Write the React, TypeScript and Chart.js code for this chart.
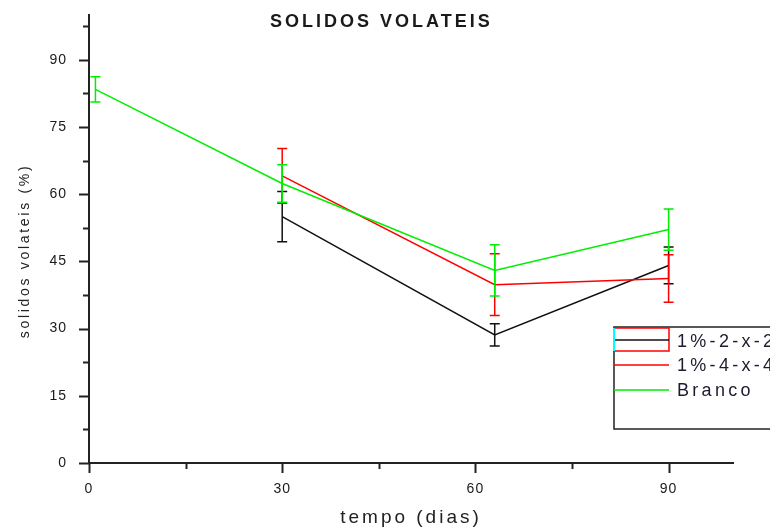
import React, { useEffect, useRef } from 'react';
import { Chart, registerables } from 'chart.js';

Chart.register(...registerables);

const chartTitle = 'SOLIDOS VOLATEIS';
const xTitle = 'tempo (dias)';
const yTitle = 'solidos volateis (%)';
const seriesNames = ['1%-2-x-2', '1%-4-x-4', 'Branco'];

const xBlack = [30, 63, 90];
const yBlack = [55.0, 28.6, 44.1];
const eBlack = [5.6, 2.5, 4.1];

const xRed = [30, 63, 90];
const yRed = [64.1, 39.8, 41.2];
const eRed = [6.1, 6.9, 5.3];

const xGreen = [1, 30, 63, 90];
const yGreen = [83.4, 62.4, 43.0, 52.1];
const eGreen = [2.8, 4.2, 5.7, 4.6];

const FONT = "'Liberation Sans', Arial, sans-serif";
const TITLE_SPACING = '3px';
const TICK_SPACING = '1px';
const AXIS = '#222';

const toPoints = (xs: number[], ys: number[]) => xs.map((x, i) => ({ x, y: ys[i] }));

const errorsByDataset = [eBlack, eRed, eGreen];
const colors = ['#111111', '#ff0000', '#00ee00'];

const spacingPlugin = {
  id: 'spacing',
  beforeUpdate(chart: any) {
    chart.ctx.letterSpacing = TICK_SPACING;
  },
  beforeDraw(chart: any) {
    chart.ctx.letterSpacing = TITLE_SPACING;
  },
  afterDatasetsDraw(chart: any) {
    chart.ctx.letterSpacing = TICK_SPACING;
  },
};

const ticksPlugin = {
  id: 'tickMarks',
  afterDraw(chart: any) {
    const ctx = chart.ctx;
    const xs = chart.scales.x;
    const ys = chart.scales.y;
    const left = chart.chartArea.left;
    const bottom = chart.chartArea.bottom;
    ctx.save();
    ctx.strokeStyle = AXIS;
    ctx.lineWidth = 2;
    ys.ticks.forEach((t: any) => {
      const v = t.value;
      const py = Math.round(ys.getPixelForValue(v)) + 0.5;
      const len = Math.abs(v % 15) < 1e-6 ? 10 : 6;
      ctx.beginPath();
      ctx.moveTo(left - len, py);
      ctx.lineTo(left, py);
      ctx.stroke();
    });
    xs.ticks.forEach((t: any) => {
      const v = t.value;
      const px = Math.round(xs.getPixelForValue(v)) + 0.5;
      const len = Math.abs(v % 30) < 1e-6 ? 10 : 6;
      ctx.beginPath();
      ctx.moveTo(px, bottom);
      ctx.lineTo(px, bottom + len);
      ctx.stroke();
    });
    ctx.restore();
  },
};

const errorPlugin = {
  id: 'errorBars',
  afterDatasetDraw(chart: any, args: any) {
    const idx = args.index;
    const errs = errorsByDataset[idx];
    if (!errs) return;
    const ctx = chart.ctx;
    const ys = chart.scales.y;
    const meta = chart.getDatasetMeta(idx);
    const data = chart.data.datasets[idx].data as any[];
    ctx.save();
    ctx.strokeStyle = colors[idx];
    ctx.lineWidth = 1.5;
    meta.data.forEach((el: any, i: number) => {
      const v = data[i].y;
      const e = errs[i];
      const x = el.x;
      const yt = ys.getPixelForValue(v + e);
      const yb = ys.getPixelForValue(v - e);
      ctx.beginPath();
      ctx.moveTo(x, yt);
      ctx.lineTo(x, yb);
      ctx.moveTo(x - 5, yt);
      ctx.lineTo(x + 5, yt);
      ctx.moveTo(x - 5, yb);
      ctx.lineTo(x + 5, yb);
      ctx.stroke();
    });
    ctx.restore();
  },
};

const decorPlugin = {
  id: 'decor',
  afterDraw(chart: any) {
    const ctx = chart.ctx;
    ctx.save();
    ctx.letterSpacing = TITLE_SPACING;
    // title
    ctx.fillStyle = '#1a1a1a';
    ctx.font = `bold 18px ${FONT}`;
    ctx.textAlign = 'left';
    ctx.textBaseline = 'middle';
    ctx.fillText(chartTitle, 270, 22);

    // y axis title
    ctx.save();
    ctx.translate(25, 251);
    ctx.rotate(-Math.PI / 2);
    ctx.letterSpacing = '2.7px';
    ctx.font = `14px ${FONT}`;
    ctx.fillStyle = '#222';
    ctx.textAlign = 'center';
    ctx.textBaseline = 'middle';
    ctx.fillText(yTitle, 0, 0);
    ctx.restore();

    // legend box
    const bx = 614;
    const by = 327;
    const bw = 170;
    const bh = 102;
    ctx.strokeStyle = AXIS;
    ctx.lineWidth = 1.5;
    ctx.strokeRect(bx, by, bw, bh);

    // entry 1 (black series with red frame)
    ctx.strokeStyle = '#ff0000';
    ctx.lineWidth = 1.5;
    ctx.strokeRect(bx, 328, 55, 23);
    ctx.strokeStyle = colors[0];
    ctx.beginPath();
    ctx.moveTo(bx, 340);
    ctx.lineTo(bx + 55, 340);
    ctx.stroke();
    ctx.strokeStyle = '#00ffff';
    ctx.lineWidth = 2;
    ctx.beginPath();
    ctx.moveTo(bx, 328);
    ctx.lineTo(bx, 351);
    ctx.stroke();

    // entry 2
    ctx.strokeStyle = colors[1];
    ctx.lineWidth = 1.5;
    ctx.beginPath();
    ctx.moveTo(bx, 365);
    ctx.lineTo(bx + 55, 365);
    ctx.stroke();
    // entry 3
    ctx.strokeStyle = colors[2];
    ctx.beginPath();
    ctx.moveTo(bx, 390);
    ctx.lineTo(bx + 55, 390);
    ctx.stroke();

    ctx.fillStyle = '#1c1c30';
    ctx.letterSpacing = '3.3px';
    ctx.font = `18px ${FONT}`;
    ctx.textAlign = 'left';
    ctx.textBaseline = 'middle';
    const ys = [342, 366, 391];
    seriesNames.forEach((n, i) => ctx.fillText(n, 677, ys[i]));
    ctx.restore();
  },
};

export default function App() {
  const ref = useRef<HTMLCanvasElement | null>(null);
  useEffect(() => {
    if (!ref.current) return;
    const chart = new Chart(ref.current, {
      type: 'line',
      data: {
        datasets: [
          {
            label: seriesNames[0],
            data: toPoints(xBlack, yBlack),
            borderColor: colors[0],
            borderWidth: 1.5,
            pointRadius: 0,
            order: 2,
          },
          {
            label: seriesNames[1],
            data: toPoints(xRed, yRed),
            borderColor: colors[1],
            borderWidth: 1.5,
            pointRadius: 0,
            order: 1,
          },
          {
            label: seriesNames[2],
            data: toPoints(xGreen, yGreen),
            borderColor: colors[2],
            borderWidth: 1.5,
            pointRadius: 0,
            order: 0,
          },
        ],
      },
      options: {
        responsive: false,
        maintainAspectRatio: false,
        animation: false,
        layout: { padding: { left: 0, top: 15, right: 37, bottom: 0 } },
        plugins: {
          legend: { display: false },
          title: { display: false },
          tooltip: { enabled: false },
        },
        elements: { line: { tension: 0 } },
        scales: {
          x: {
            type: 'linear',
            min: 0,
            max: 100,
            afterFit: (s: any) => {
              s.height = 66;
              s.paddingLeft = 0;
              s.paddingRight = 0;
            },
            border: { display: true, color: AXIS, width: 2 },
            grid: { display: false },
            ticks: {
              z: 1,
              stepSize: 15,
              includeBounds: false,
              autoSkip: false,
              maxRotation: 0,
              padding: 10,
              color: '#1a1a1a',
              font: { family: FONT, size: 14 },
              callback: (v: any) => (Math.abs(Number(v) % 30) < 1e-6 ? String(v) : ''),
            },
            title: {
              display: true,
              text: xTitle,
              color: '#222',
              font: { family: FONT, size: 19 },
              padding: { top: 0, bottom: 0 },
            },
          },
          y: {
            type: 'linear',
            min: 0,
            max: 100,
            afterFit: (s: any) => {
              s.width = 89;
              s.paddingTop = 0;
              s.paddingBottom = 0;
            },
            border: { display: true, color: AXIS, width: 2 },
            grid: { display: false },
            ticks: {
              z: 1,
              stepSize: 7.5,
              includeBounds: false,
              autoSkip: false,
              padding: 14,
              color: '#1a1a1a',
              font: { family: FONT, size: 14 },
              callback: (v: any) => (Math.abs(Number(v) % 15) < 1e-6 ? String(v) : ''),
            },
            title: { display: false },
          },
        },
      },
      plugins: [spacingPlugin, ticksPlugin, errorPlugin, decorPlugin],
    } as any);
    return () => chart.destroy();
  }, []);
  return (
    <div style={{ position: 'fixed', left: 0, top: 0, width: 770, height: 529, background: '#fff' }}>
      <canvas ref={ref} width={770} height={529} />
    </div>
  );
}
